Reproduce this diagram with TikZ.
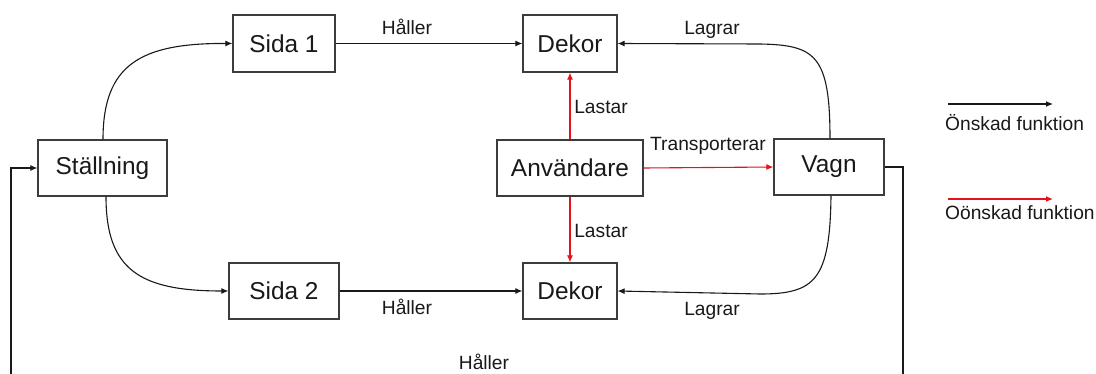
\documentclass[tikz,border=0pt]{standalone}
\usepackage{fontspec}
\setmainfont{Liberation Sans}
\usetikzlibrary{arrows.meta}
\definecolor{boxline}{RGB}{60,60,60}
\definecolor{txt}{RGB}{25,25,25}
\definecolor{bad}{RGB}{228,18,28}
\begin{document}
\begin{tikzpicture}[x=1pt,y=-1pt,
  box/.style={draw=boxline,line width=1.2pt,inner sep=0pt,minimum height=57pt,
    text=txt,font=\fontsize{24.4}{28}\selectfont},
  lbl/.style={text=txt,inner sep=0pt,anchor=base,font=\fontsize{19.2}{22}\selectfont},
  conn/.style={draw=black!90,line width=1.1pt,-{Latex[length=7pt,width=6pt]}},
  badconn/.style={draw=bad,line width=1.1pt,-{Latex[length=7pt,width=6pt]}}]
\clip (0,0) rectangle (1096,374);
\fill[white] (0,0) rectangle (1096,374);

% nodes
\node[box,minimum width=102pt] (sida1) at (284,43.5) {Sida 1};
\node[box,minimum width=94pt]  (dekor1) at (570,43.5) {Dekor};
\node[box,minimum width=129pt,minimum height=56pt] (st) at (102.5,168) {Ställning};
\node[box,minimum width=146pt,minimum height=56pt] (anv) at (570,168) {Användare};
\node[box,minimum width=110pt,minimum height=56pt] (vagn) at (829,167) {Vagn};
\node[box,minimum width=110pt,minimum height=56pt] (sida2) at (284,291) {Sida 2};
\node[box,minimum width=94pt,minimum height=56pt]  (dekor2) at (570,291) {Dekor};

% labels
\node[lbl] (l1) at (407,35) {Håller};
\node[lbl] (l2) at (407,315) {Håller};
\node[lbl] (l3) at (712,35) {Lagrar};
\node[lbl] (l4) at (712,316) {Lagrar};
\node[lbl] (l5) at (601,114) {Lastar};
\node[lbl] (l6) at (601,238) {Lastar};
\node[lbl] (l7) at (708,151) {Transporterar};
\node[lbl] (l8) at (484,370) {Håller};
\node[lbl,anchor=base west] (leg1) at (945,131) {Önskad funktion};
\node[lbl,anchor=base west] (leg2) at (945,220) {Oönskad funktion};

% black connectors
\draw[conn] (st.north -| 103,0) .. controls (103,65) and (140,43) .. (sida1.west);
\draw[conn] (st.south -| 106,0) .. controls (106,270) and (140,291) .. (sida2.west);
\draw[conn] (sida1.east) -- (dekor1.west);
\draw[conn] (sida2.east) -- (dekor2.west);
\draw[conn] (vagn.north -| 830,0) .. controls (830,55) and (815,45) .. (760,44) -- (dekor1.east);
\draw[conn] (vagn.south -| 831,0) .. controls (830,280) and (815,294) .. (760,294) -- (dekor2.east);
\coordinate (br) at (903,390);
\coordinate (bl) at (11,390);
\draw[conn] (vagn.east) -| (br) -- (bl) |- (st.west);

% red connectors
\draw[badconn] (anv.north) -- (dekor1.south);
\draw[badconn] (anv.south) -- (dekor2.north);
\draw[badconn] (anv.east) -- (vagn.west);

% legend
\coordinate (a1) at (948,104);
\coordinate (b1) at (1053,104);
\coordinate (a2) at (948,199);
\coordinate (b2) at (1053,199);
\draw[conn] (a1) -- (b1);
\draw[badconn] (a2) -- (b2);
\end{tikzpicture}
\end{document}
